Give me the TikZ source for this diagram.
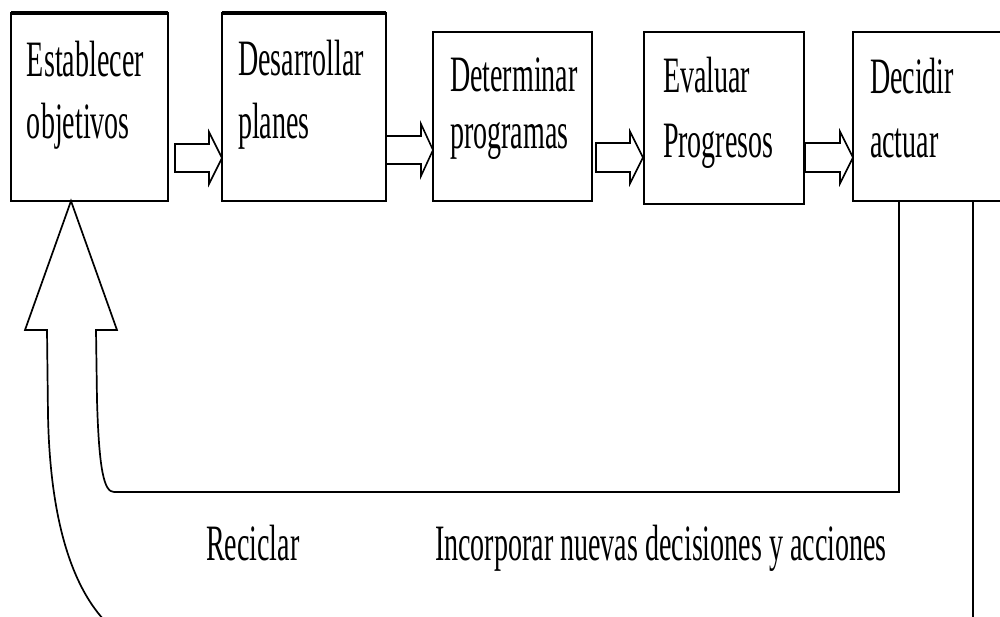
\documentclass[tikz,border=0pt]{standalone}
\usepackage{fontspec}
\setmainfont{Liberation Serif}[FakeStretch=0.55]
\usetikzlibrary{calc}
\tikzset{
  boxnode/.style={draw=black, line width=1.9pt, rectangle, inner sep=0pt, outer sep=0pt, anchor=north west},
  txt/.style={inner sep=0pt, outer sep=0pt, anchor=base west, font=\fontsize{51}{60}\selectfont},
  blk/.style={draw=black, line width=1.6pt, line join=miter, fill=white},
  fb/.style={draw=black, line width=1.7pt},
}
\newcommand\blkarrow[6]{%
  \draw[blk] (#1,#4-#5) -- (#2,#4-#5) -- (#2,#4-#6) -- (#3,#4) -- (#2,#4+#6) -- (#2,#4+#5) -- (#1,#4+#5) -- cycle;}
\begin{document}
\begin{tikzpicture}[x=1pt,y=-1pt]
\useasboundingbox[fill=white] (0,0) rectangle (1000,616);
% boxes
\node[boxnode, minimum width=157pt, minimum height=188pt] (b1) at (11,13) {};
\node[boxnode, minimum width=164pt, minimum height=188pt] (b2) at (222,13) {};
\node[boxnode, minimum width=159pt, minimum height=169pt] (b3) at (433,32) {};
\node[boxnode, minimum width=160pt, minimum height=172pt] (b4) at (644,32) {};
\node[boxnode, minimum width=170pt, minimum height=169pt] (b5) at (853,32) {};
\draw[line width=4.5pt] (b1.north west) -- (b1.north east);
\draw[line width=4.5pt] (b2.north west) -- (b2.north east);
% texts
\node[txt] (t1a) at (27,76) {Establecer};
\node[txt] (t1b) at (27,138) {objetivos};
\node[txt] (t2a) at (238,75) {Desarrollar};
\node[txt] (t2b) at (238,138) {planes};
\node[txt] (t3a) at (450,91) {Determinar};
\node[txt] (t3b) at (450,148) {programas};
\node[txt] (t4a) at (663,92) {Evaluar};
\node[txt] (t4b) at (663,157) {Progresos};
\node[txt] (t5a) at (870,93) {Decidir};
\node[txt] (t5b) at (870,157) {actuar};
\node[txt] (l1) at (206,560) {Reciclar};
\node[txt] (l2) at (435,560) {Incorporar nuevas decisiones y acciones};
% block arrows between boxes
\blkarrow{175}{209}{222}{158}{14}{26}
\blkarrow{386}{421}{433}{150}{14}{26}
\blkarrow{596}{630}{643}{157.5}{14.5}{26}
\blkarrow{805}{840}{853}{157.5}{14.5}{26}
% feedback
\coordinate (r1) at (899,492);
\coordinate (r2) at (973,620);
\coordinate (tipx) at (71,0);
\draw[fb, line join=miter] (b5.south -| r1) -- (r1) -- (114,492)
  .. controls (104,492) and (99,470) .. (97,400) -- (96,330) -- (117,330)
  -- (b1.south -| tipx) -- (25,330) -- (47,330) -- (48,415)
  .. controls (50,520) and (72,585) .. (104,620);
\draw[fb] (b5.south -| r2) -- (r2);
\end{tikzpicture}
\end{document}
